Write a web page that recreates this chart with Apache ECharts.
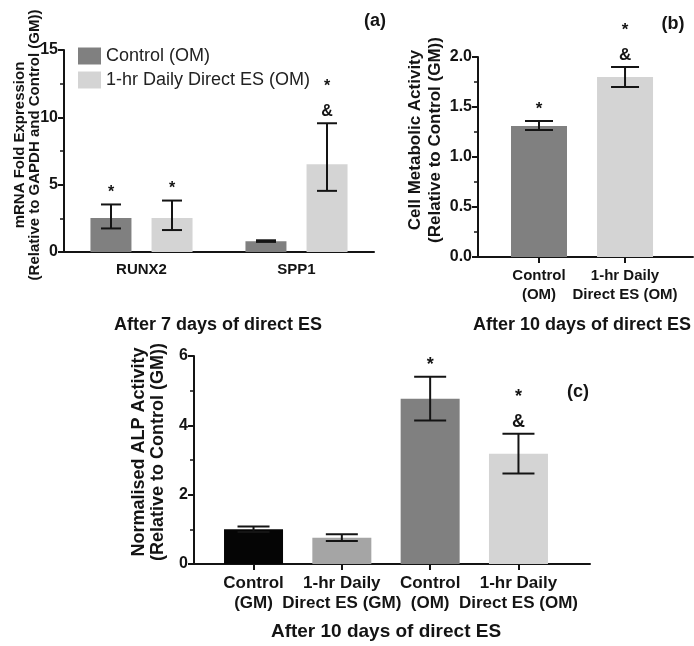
<!DOCTYPE html>
<html>
<head>
<meta charset="utf-8">
<script src="https://cdn.jsdelivr.net/npm/echarts@6/dist/echarts.min.js"></script>
<style>
  html, body { margin: 0; padding: 0; background: #fff; }
  #chart { width: 694px; height: 646px; }
</style>
</head>
<body>
<div id="chart"></div>
<script>
// (a) mRNA fold expression, after 7 days
const genesA = ['RUNX2', 'SPP1'];
const ctrlA = [2.52, 0.80];
const ctrlALo = [1.75, 0.75];
const ctrlAHi = [3.53, 0.87];
const esA = [2.52, 6.52];
const esALo = [1.63, 4.54];
const esAHi = [3.82, 9.56];
const ctrlAMarks = [['*'], []];
const esAMarks = [['*'], ['&', '*']];
const ticksA = [0, 5, 10, 15];

// (b) cell metabolic activity, after 10 days
const groupsB = ['Control\n(OM)', '1-hr Daily\nDirect ES (OM)'];
const valsB = [1.31, 1.80];
const loB = [1.27, 1.70];
const hiB = [1.36, 1.90];
const marksB = [['*'], ['&', '*']];
const ticksB = [0, 0.5, 1.0, 1.5, 2.0];

// (c) normalised ALP activity, after 10 days
const groupsC = ['Control\n(GM)', '1-hr Daily\nDirect ES (GM)', 'Control\n(OM)', '1-hr Daily\nDirect ES (OM)'];
const valsC = [1.00, 0.76, 4.77, 3.18];
const loC = [0.92, 0.66, 4.14, 2.61];
const hiC = [1.08, 0.86, 5.40, 3.76];
const marksC = [[], [], ['*'], ['&', '*']];
const ticksC = [0, 2, 4, 6];

const legendNames = ['Control (OM)', '1-hr Daily Direct ES (OM)'];
const colorsB = ['#808080', '#d4d4d4'];
const colorsC = ['#050505', '#a5a5a5', '#808080', '#d4d4d4'];

const ink = '#141414';
const font = 'Liberation Sans, Arial, sans-serif';

function errBars(lo, hi, marks, dx, cap, fs) {
  return function (params, api) {
    const i = params.dataIndex;
    const t = api.coord([api.value(0), hi[i]]);
    const b = api.coord([api.value(0), lo[i]]);
    const cx = t[0] + dx;
    const st = { stroke: ink, lineWidth: 2 };
    const kids = [
      { type: 'line', shape: { x1: cx, y1: t[1], x2: cx, y2: b[1] }, style: st },
      { type: 'line', shape: { x1: cx - cap, y1: t[1], x2: cx + cap, y2: t[1] }, style: st },
      { type: 'line', shape: { x1: cx - cap, y1: b[1], x2: cx + cap, y2: b[1] }, style: st }
    ];
    marks[i].forEach(function (m, k) {
      kids.push({
        type: 'text',
        style: {
          x: cx, y: t[1] - 12 - k * 25, text: m,
          font: 'bold ' + fs + 'px ' + font, fill: ink,
          align: 'center', verticalAlign: 'middle'
        }
      });
    });
    return { type: 'group', children: kids };
  };
}

function yAx(idx, max, interval, fs, fmt) {
  return {
    gridIndex: idx, type: 'value', min: 0, max: max, interval: interval,
    axisLine: { show: true, onZero: false, lineStyle: { color: ink, width: 2 } },
    axisTick: { show: true, length: 6, lineStyle: { color: ink, width: 2 } },
    minorTick: { show: true, splitNumber: 2, length: 4, lineStyle: { color: ink, width: 1.5 } },
    splitLine: { show: false },
    axisLabel: { color: ink, fontWeight: 'bold', fontSize: fs, fontFamily: font, margin: 6, formatter: fmt }
  };
}

// value x axis with one tick per group; blank labels at both ends keep
// echarts from hiding the first/last group label when neighbours touch
function xVal(idx, min, max, names, fs, lh) {
  const vals = names.map(function (n, i) { return i; });
  return {
    gridIndex: idx, type: 'value', min: min, max: max,
    splitLine: { show: false },
    axisLine: { show: true, onZero: false, lineStyle: { color: ink, width: 2 } },
    axisTick: { show: true, customValues: vals, length: 6, lineStyle: { color: ink, width: 2 } },
    axisLabel: {
      customValues: [min].concat(vals, [max]), hideOverlap: false,
      color: ink, fontWeight: 'bold', fontSize: fs, fontFamily: font,
      margin: 9, lineHeight: lh,
      formatter: function (v) {
        const k = Math.round(v);
        return Math.abs(v - k) < 1e-6 && names[k] ? names[k] : ' ';
      }
    }
  };
}

const chart = echarts.init(document.getElementById('chart'), null, { renderer: 'canvas' });

chart.setOption({
  animation: false,
  backgroundColor: '#fff',
  grid: [
    { left: 64, top: 50, width: 310, height: 202, outerBoundsMode: 'none' },
    { left: 478, top: 57, width: 215, height: 200, outerBoundsMode: 'none' },
    { left: 194, top: 356, width: 396, height: 208, outerBoundsMode: 'none' }
  ],
  legend: {
    data: legendNames, orient: 'vertical', left: 73, top: 42,
    itemWidth: 23, itemHeight: 17, itemGap: 6,
    icon: 'rect',
    textStyle: { fontSize: 18, color: '#222', fontFamily: font }
  },
  xAxis: [
    {
      gridIndex: 0, type: 'category', data: genesA,
      axisLine: { lineStyle: { color: ink, width: 2 } },
      axisTick: { alignWithLabel: true, length: 6, lineStyle: { color: ink, width: 2 } },
      axisLabel: { color: ink, fontWeight: 'bold', fontSize: 15, fontFamily: font, margin: 10 }
    },
    xVal(1, -0.709, 1.79, groupsB, 15, 19),
    xVal(2, -0.674, 3.81, groupsC, 17, 20)
  ],
  yAxis: [
    yAx(0, ticksA[ticksA.length - 1], ticksA[1] - ticksA[0], 16),
    yAx(1, ticksB[ticksB.length - 1], ticksB[1] - ticksB[0], 16, function (v) { return v.toFixed(1); }),
    yAx(2, ticksC[ticksC.length - 1], ticksC[1] - ticksC[0], 16)
  ],
  series: [
    {
      name: legendNames[0], type: 'bar', xAxisIndex: 0, yAxisIndex: 0,
      data: ctrlA, barWidth: 41, barGap: '49%', itemStyle: { color: colorsB[0] }
    },
    {
      name: legendNames[1], type: 'bar', xAxisIndex: 0, yAxisIndex: 0,
      data: esA, barWidth: 41, barGap: '49%', itemStyle: { color: colorsB[1] }
    },
    {
      type: 'custom', xAxisIndex: 0, yAxisIndex: 0, z: 5,
      renderItem: errBars(ctrlALo, ctrlAHi, ctrlAMarks, -30.5, 10, 16),
      data: genesA.map(function (g, i) { return [i, ctrlA[i]]; })
    },
    {
      type: 'custom', xAxisIndex: 0, yAxisIndex: 0, z: 5,
      renderItem: errBars(esALo, esAHi, esAMarks, 30.5, 10, 16),
      data: genesA.map(function (g, i) { return [i, esA[i]]; })
    },
    {
      type: 'bar', xAxisIndex: 1, yAxisIndex: 1, barWidth: 56,
      data: valsB.map(function (v, i) { return { value: [i, v], itemStyle: { color: colorsB[i] } }; })
    },
    {
      type: 'custom', xAxisIndex: 1, yAxisIndex: 1, z: 5,
      renderItem: errBars(loB, hiB, marksB, 0, 14, 17),
      data: valsB.map(function (v, i) { return [i, v]; })
    },
    {
      type: 'bar', xAxisIndex: 2, yAxisIndex: 2, barWidth: 59,
      data: valsC.map(function (v, i) { return { value: [i, v], itemStyle: { color: colorsC[i] } }; })
    },
    {
      type: 'custom', xAxisIndex: 2, yAxisIndex: 2, z: 5,
      renderItem: errBars(loC, hiC, marksC, 0, 16, 18),
      data: valsC.map(function (v, i) { return [i, v]; })
    }
  ],
  graphic: [
    {
      type: 'text', x: 27, y: 145, rotation: Math.PI / 2,
      style: { text: 'mRNA Fold Expression\n(Relative to GAPDH and Control (GM))', font: 'bold 15px ' + font,
        fill: ink, align: 'center', verticalAlign: 'middle', lineHeight: 15 }
    },
    {
      type: 'text', x: 425, y: 140, rotation: Math.PI / 2,
      style: { text: 'Cell Metabolic Activity\n(Relative to Control (GM))', font: 'bold 17px ' + font,
        fill: ink, align: 'center', verticalAlign: 'middle', lineHeight: 20 }
    },
    {
      type: 'text', x: 149, y: 452, rotation: Math.PI / 2,
      style: { text: 'Normalised ALP Activity\n(Relative to Control (GM))', font: 'bold 18px ' + font,
        fill: ink, align: 'center', verticalAlign: 'middle', lineHeight: 19 }
    },
    { type: 'text', x: 218, y: 325, style: { text: 'After 7 days of direct ES', font: 'bold 18px ' + font, fill: ink, align: 'center', verticalAlign: 'middle' } },
    { type: 'text', x: 582, y: 325, style: { text: 'After 10 days of direct ES', font: 'bold 18px ' + font, fill: ink, align: 'center', verticalAlign: 'middle' } },
    { type: 'text', x: 386, y: 632, style: { text: 'After 10 days of direct ES', font: 'bold 19px ' + font, fill: ink, align: 'center', verticalAlign: 'middle' } },
    { type: 'text', x: 375, y: 21, style: { text: '(a)', font: 'bold 18px ' + font, fill: ink, align: 'center', verticalAlign: 'middle' } },
    { type: 'text', x: 673, y: 24, style: { text: '(b)', font: 'bold 18px ' + font, fill: ink, align: 'center', verticalAlign: 'middle' } },
    { type: 'text', x: 578, y: 392, style: { text: '(c)', font: 'bold 18px ' + font, fill: ink, align: 'center', verticalAlign: 'middle' } }
  ]
});
</script>
</body>
</html>
